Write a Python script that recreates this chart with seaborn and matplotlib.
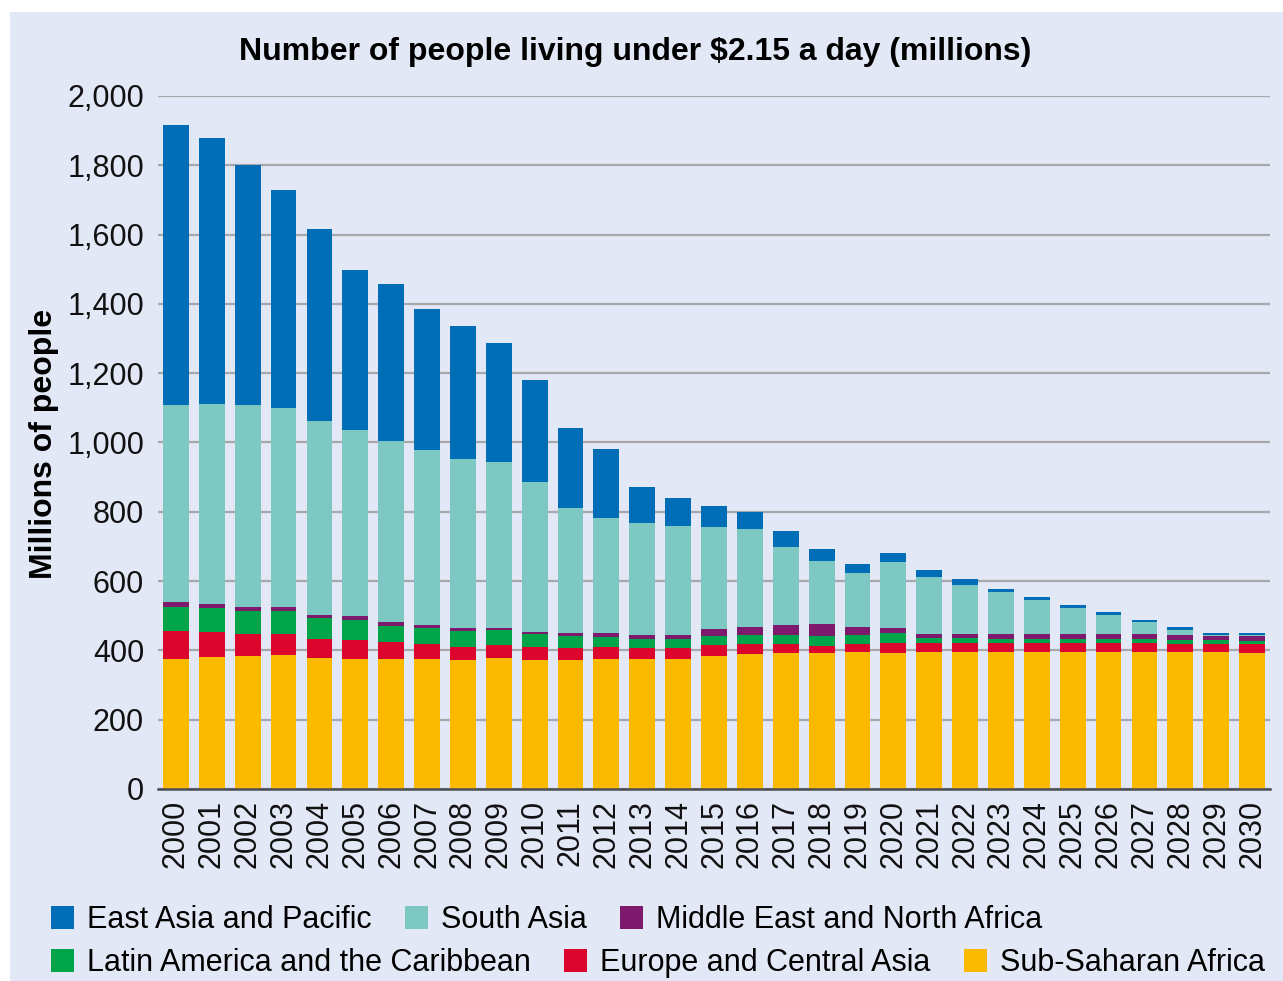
import numpy as np
import pandas as pd
import matplotlib
matplotlib.use("Agg")
import matplotlib.pyplot as plt
import seaborn as sns
from matplotlib.patches import Patch, Rectangle
from matplotlib.ticker import FuncFormatter

years = ["2000", "2001", "2002", "2003", "2004", "2005", "2006", "2007", "2008", "2009",
         "2010", "2011", "2012", "2013", "2014", "2015", "2016", "2017", "2018", "2019",
         "2020", "2021", "2022", "2023", "2024", "2025", "2026", "2027", "2028", "2029", "2030"]

sub_saharan = [375, 381, 384, 387, 378, 375, 375, 375, 372, 378, 372,
               372, 375, 375, 375, 384, 389, 392, 392, 395, 392,
               394, 394, 396, 396, 396, 396, 396, 396, 396, 393]
europe_ca = [82, 72, 63, 60, 55, 55, 49, 43, 38, 37, 38,
             35, 35, 32, 32, 31, 29, 26, 20, 23, 29,
             26, 28, 26, 26, 26, 26, 26, 23, 23, 26]
latin_am = [68, 69, 66, 66, 60, 57, 46, 46, 46, 44, 37,
            34, 28, 26, 26, 26, 26, 26, 29, 26, 29,
            17, 15, 12, 12, 12, 12, 12, 12, 12, 9]
mena = [14, 12, 12, 12, 9, 12, 12, 9, 8, 5, 6,
        9, 12, 11, 11, 21, 23, 29, 35, 23, 14,
        11, 11, 14, 14, 14, 14, 14, 14, 11, 14]
south_asia = [570, 578, 584, 575, 561, 538, 523, 506, 489, 480, 434,
              362, 333, 324, 316, 295, 284, 226, 183, 157, 192,
              164, 141, 121, 98, 75, 55, 35, 15, 3, 3]
east_asia = [807, 767, 692, 629, 553, 461, 453, 407, 384, 344, 294,
             230, 199, 104, 80, 60, 49, 46, 34, 26, 26,
             21, 18, 9, 9, 9, 9, 6, 8, 6, 6]

regions = ["Sub-Saharan Africa", "Europe and Central Asia", "Latin America and the Caribbean",
           "Middle East and North Africa", "South Asia", "East Asia and Pacific"]
colors = ["#FBBA00", "#DC052D", "#00A54A", "#7E1A6E", "#7EC8C3", "#006EB6"]

values = np.array([sub_saharan, europe_ca, latin_am, mena, south_asia, east_asia], dtype=float)
cum = np.cumsum(values, axis=0)

BG = "#E2E8F5"
W, H = 1283, 981
fig = plt.figure(figsize=(W / 100, H / 100), dpi=100)
fig.patch.set_facecolor("white")
fig.patches.append(Rectangle((10 / W, 0), 1 - 10 / W, 1 - 12 / H, transform=fig.transFigure,
                             facecolor=BG, edgecolor="none", zorder=-10))

ax = fig.add_axes([158 / W, 1 - 789 / H, (1270 - 158) / W, (789 - 96) / H])
ax.set_facecolor(BG)

# draw stacked bars: tallest cumulative first, then smaller ones on top
for i in range(len(regions) - 1, -1, -1):
    df = pd.DataFrame({"year": years, "value": cum[i]})
    sns.barplot(data=df, x="year", y="value", color=colors[i], saturation=1,
                width=0.72, errorbar=None, ax=ax, zorder=3, linewidth=0)

ax.set_xlim(-0.5, len(years) - 0.5)
ax.set_ylim(0, 2000)
ax.set_yticks(np.arange(0, 2001, 200))
ax.yaxis.set_major_formatter(FuncFormatter(lambda v, p: f"{int(v):,}"))
ax.grid(axis="y", color="#A8A8AC", linewidth=1.6, zorder=0)
ax.grid(axis="x", visible=False)
for s in ["left", "right", "top"]:
    ax.spines[s].set_visible(False)
ax.spines["bottom"].set_color("#4A4D55")
ax.spines["bottom"].set_linewidth(1.8)
ax.spines["bottom"].set_zorder(5)
ax.tick_params(axis="y", length=0, pad=10, labelsize=22, labelcolor="#111111")
ax.tick_params(axis="x", length=0, pad=8, labelsize=22, labelrotation=90, labelcolor="#111111")
for lab in ax.get_xticklabels() + ax.get_yticklabels():
    lab.set_fontfamily("Liberation Sans")
ax.set_xlabel("")
ax.set_ylabel("")

fig.text(635 / W, 1 - 52 / H, "Number of people living under $2.15 a day (millions)",
         ha="center", va="center", fontsize=23, fontweight="bold", family="Liberation Sans")
fig.text(44 / W, 1 - 444 / H, "Millions of people", rotation=90, ha="center", va="center",
         fontsize=23, fontweight="bold", family="Liberation Sans")

cmap = dict(zip(regions, colors))
row1 = ["East Asia and Pacific", "South Asia", "Middle East and North Africa"]
row2 = ["Latin America and the Caribbean", "Europe and Central Asia", "Sub-Saharan Africa"]
for row, yc in [(row1, 920), (row2, 963)]:
    handles = [Patch(facecolor=cmap[r], edgecolor="none") for r in row]
    leg = fig.legend(handles, row, loc="center left", bbox_to_anchor=(51 / W, 1 - yc / H),
                     ncol=3, frameon=False, handlelength=0.75, handleheight=0.75,
                     handletextpad=0.42, columnspacing=1.1, borderpad=0, borderaxespad=0,
                     prop={"family": "Liberation Sans", "size": 22})

fig.savefig("out.png", dpi=100, facecolor=fig.get_facecolor())
